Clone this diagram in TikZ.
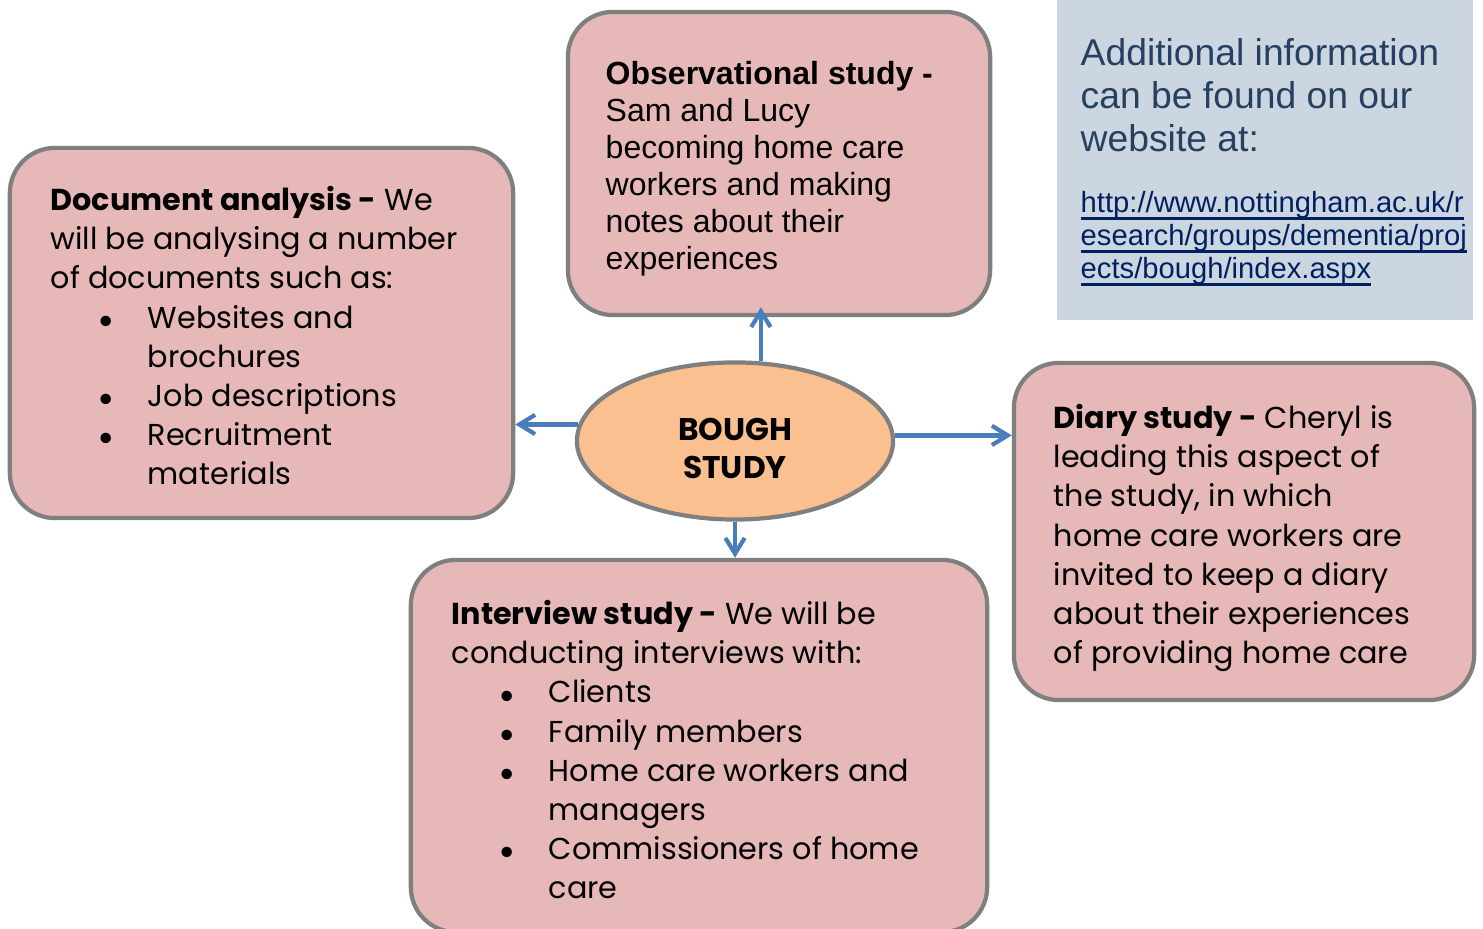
\documentclass[tikz,border=0pt]{standalone}
\usepackage{fontspec}
\setmainfont{Liberation Sans}
\newfontfamily\gothic{Poppins}
\usetikzlibrary{shapes.geometric,arrows.meta}

\definecolor{boxpink}{HTML}{E6B8B7}
\definecolor{boxgray}{HTML}{7F7F7F}
\definecolor{boughorange}{HTML}{FAC090}
\definecolor{arrowblue}{HTML}{4A7EBB}
\definecolor{infoblue}{HTML}{CCD6E1}
\definecolor{infotext}{HTML}{254061}
\definecolor{linknavy}{HTML}{002060}

% bullet line and its continuation
\newcommand{\bitem}[1]{\hspace*{0.47cm}\makebox[0.5cm][l]{\raisebox{-2.2pt}{\fontsize{12}{0}\selectfont\textbullet}}#1}
\newcommand{\bcont}[1]{\hspace*{0.97cm}#1}
% underlined link line
\newcommand{\urlline}[1]{\setbox0\hbox{#1}\rlap{\rule[-2pt]{\wd0}{0.8pt}}\box0}

\begin{document}
\begin{tikzpicture}[x=0.01cm,y=0.01cm,
  studybox/.style={draw=boxgray,line width=1.2pt,fill=boxpink,rounded corners=0.45cm,inner sep=0pt},
  gothictext/.style={anchor=north west,inner sep=0pt,align=left,font=\gothic\fontsize{8.6}{11.1}\selectfont},
  arialtext/.style={anchor=north west,inner sep=0pt,align=left,font=\fontsize{9.1}{10.5}\selectfont},
  link/.style={draw=arrowblue,line width=1.2pt,-{Straight Barb[length=4.5pt,width=5.5pt,line width=1.2pt]}}]
\useasboundingbox (0,0) rectangle (1483,928);

% Draw info panel
\fill [infoblue] (1057,608) rectangle (1473,928);
\node [anchor=north west,inner sep=0pt,align=left,text=infotext,font=\fontsize{10.6}{12.2}\selectfont] (infotxt) at (1080,890)
  {Additional information\\can be found on our\\website at:};
\node [anchor=north west,inner sep=0pt,align=left,text=linknavy,font=\fontsize{8.3}{9.4}\selectfont] (infourl) at (1080,737)
  {\urlline{http://www.nottingham.ac.uk/r}\\\urlline{esearch/groups/dementia/proj}\\\urlline{ects/bough/index.aspx}};

% Draw study boxes
\node [studybox,minimum width=5.03cm,minimum height=3.7cm] (docbox) at (261.5,595) {};
\node [studybox,minimum width=4.22cm,minimum height=3.03cm] (obsbox) at (779,764.5) {};
\node [studybox,minimum width=4.6cm,minimum height=3.37cm] (diarybox) at (1244,396.5) {};
\node [studybox,minimum width=5.76cm,minimum height=3.72cm] (intbox) at (699,182) {};

% Draw centre ellipse
\node [ellipse,draw=boxgray,line width=1.2pt,fill=boughorange,minimum width=3.16cm,minimum height=1.57cm,inner sep=0pt] (bough) at (735,487) {};
\node [align=center,inner sep=0pt,font=\gothic\bfseries\fontsize{8.9}{10.8}\selectfont] (boughtxt) at ([yshift=-0.07cm]bough.center) {BOUGH\\STUDY};

% Texts in the boxes
\node [gothictext] (doctxt) at (50,742)
  {\textbf{Document analysis -} We\\will be analysing a number\\of documents such as:\\
   \bitem{Websites and}\\\bcont{brochures}\\\bitem{Job descriptions}\\\bitem{Recruitment}\\\bcont{materials}};
\node [arialtext] (obstxt) at (605,867)
  {\textbf{Observational study -}\\Sam and Lucy\\becoming home care\\workers and making\\notes about their\\experiences};
\node [gothictext] (diarytxt) at (1053,524)
  {\textbf{Diary study -} Cheryl is\\leading this aspect of\\the study, in which\\home care workers are\\invited to keep a diary\\about their experiences\\of providing home care};
\node [gothictext] (inttxt) at (451,328)
  {\textbf{Interview study -} We will be\\conducting interviews with:\\
   \bitem{Clients}\\\bitem{Family members}\\\bitem{Home care workers and}\\\bcont{managers}\\\bitem{Commissioners of home}\\\bcont{care}};

% Draw arrows
\draw [link,shorten >=-0.1cm] (bough.72) -- (bough.72 |- obsbox.south);
\draw [link] (bough.174) -- (bough.174 -| docbox.east);
\draw [link] (bough.2) -- (bough.2 -| diarybox.west);
\draw [link] (bough.south) -- (bough.south |- intbox.north);

\end{tikzpicture}
\end{document}
